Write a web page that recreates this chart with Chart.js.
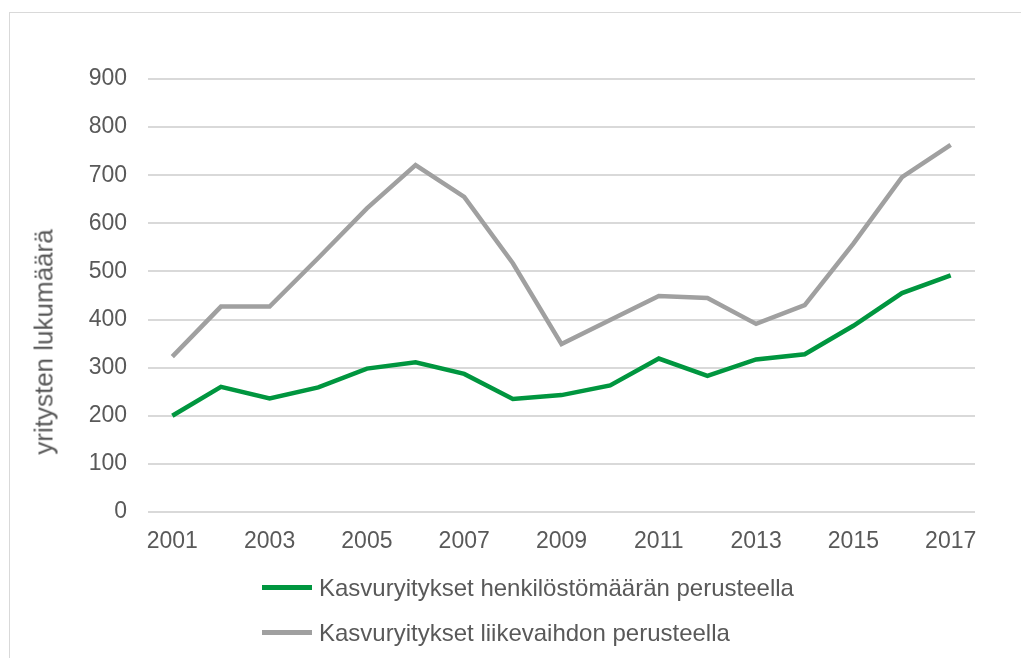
<!DOCTYPE html>
<html>
<head>
<meta charset="utf-8">
<script src="https://cdn.jsdelivr.net/npm/chart.js@4.4.0/dist/chart.umd.min.js"></script>
<style>
  html, body { margin: 0; padding: 0; background: #fff; }
  #wrap { position: relative; width: 1021px; height: 658px; overflow: hidden; }
  #frame { position: absolute; left: 9px; top: 12px; width: 1030px; height: 670px; border: 1px solid #d9d9d9; box-sizing: border-box; }
  #chart { position: absolute; left: 0; top: 0; }
  #ytitle { position: absolute; left: 44px; top: 342px; transform: translate(-50%, -50%) rotate(-90deg); white-space: nowrap;
            font-family: "Liberation Sans", Arial, sans-serif; font-size: 26px; color: #595959; }
  #legend { position: absolute; left: 262px; top: 565px; font-family: "Liberation Sans", Arial, sans-serif; font-size: 24px; color: #595959; }
  .item { display: flex; align-items: center; height: 45px; }
  .swatch { width: 50px; height: 5px; margin-right: 7px; }
</style>
</head>
<body>
<div id="wrap">
  <div id="frame"></div>
  <canvas id="chart" width="1021" height="658"></canvas>
  <div id="ytitle">yritysten lukumäärä</div>
  <div id="legend"></div>
</div>
<script>
const years = ['2001','2002','2003','2004','2005','2006','2007','2008','2009','2010','2011','2012','2013','2014','2015','2016','2017'];
const henkilosto = [200, 260, 236, 259, 298, 311, 287, 235, 243, 263, 319, 283, 317, 328, 387, 455, 492];
const liikevaihto = [323, 427, 427, 528, 631, 721, 655, 517, 349, 399, 449, 445, 391, 430, 558, 696, 763];
const yTicks = [0, 100, 200, 300, 400, 500, 600, 700, 800, 900];

const font = "'Liberation Sans', Arial, sans-serif";

const datasets = [
  { label: 'Kasvuryitykset henkilöstömäärän perusteella', data: henkilosto, borderColor: '#00963f' },
  { label: 'Kasvuryitykset liikevaihdon perusteella', data: liikevaihto, borderColor: '#a0a0a0' }
];
datasets.forEach(d => {
  d.borderWidth = 4.5;
  d.pointRadius = 0;
  d.tension = 0;
  d.fill = false;
});

const ctx = document.getElementById('chart').getContext('2d');
new Chart(ctx, {
  type: 'line',
  data: { labels: years, datasets },
  options: {
    responsive: false,
    animation: false,
    layout: { padding: { left: 0, right: 46, top: 79, bottom: 100 } },
    plugins: { legend: { display: false }, tooltip: { enabled: false } },
    scales: {
      x: {
        offset: true,
        grid: { display: false, drawTicks: false },
        border: { display: false },
        afterFit: axis => { axis.height = 46; },
        ticks: {
          autoSkip: false,
          maxRotation: 0,
          padding: 16,
          color: '#595959',
          font: { family: font, size: 23 },
          callback: (v, i) => i % 2 === 0 ? years[i] : ''
        }
      },
      y: {
        min: 0,
        max: 900,
        afterBuildTicks: axis => { axis.ticks = yTicks.map(v => ({ value: v })); },
        afterFit: axis => { axis.width = 148; },
        grid: { color: '#d9d9d9', lineWidth: 2, drawTicks: false },
        border: { display: false },
        ticks: { color: '#595959', padding: 21, font: { family: font, size: 23 } }
      }
    }
  }
});

const legend = document.getElementById('legend');
datasets.forEach(d => {
  const row = document.createElement('div');
  row.className = 'item';
  row.innerHTML = '<span class="swatch" style="background:' + d.borderColor + '"></span><span>' + d.label + '</span>';
  legend.appendChild(row);
});
</script>
</body>
</html>
